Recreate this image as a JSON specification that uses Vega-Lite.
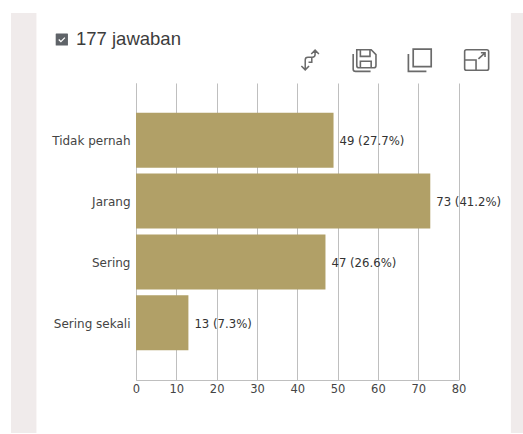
{
"$schema":"https://vega.github.io/schema/vega-lite/v6.json",
"width":322.5,"height":297,
"autosize":{"type":"none"},
"padding":{"left":136,"top":83,"right":64.5,"bottom":54},
"background":"#ffffff",
"config":{"view":{"stroke":null},"font":"DejaVu Sans"},
"title":{"text":"177 jawaban","anchor":"start","frame":"group","dx":-60,"offset":0,"dy":35,"fontSize":18.5,"fontWeight":"normal","font":"Liberation Sans","color":"#3c3c3c"},
"data":{"values":[
{"kategori":"Tidak pernah","jumlah":49,"label":"49 (27.7%)"},
{"kategori":"Jarang","jumlah":73,"label":"73 (41.2%)"},
{"kategori":"Sering","jumlah":47,"label":"47 (26.6%)"},
{"kategori":"Sering sekali","jumlah":13,"label":"13 (7.3%)"}
]},
"layer":[
{"mark":{"type":"bar","color":"#b1a067"},
"encoding":{
"x":{"field":"jumlah","type":"quantitative","scale":{"domain":[0,80],"nice":false},
"axis":{"title":null,"values":[0,10,20,30,40,50,60,70,80],"grid":true,"gridColor":"#bfbfbf","gridWidth":1,"domainColor":"#bfbfbf","ticks":false,"labelFlush":false,"labelPadding":3,"labelFontSize":11.5,"labelColor":"#444444","labelFont":"DejaVu Sans"}},
"y":{"field":"kategori","type":"nominal","sort":null,"scale":{"paddingInner":0.095,"paddingOuter":0.49},
"axis":{"title":null,"grid":false,"domainColor":"#bfbfbf","ticks":false,"labelPadding":6,"labelFontSize":12,"labelOffset":1,"labelColor":"#444444","labelFont":"DejaVu Sans"}}
}},
{"data":{"values":[{}]},"mark":{"type":"rect","color":"#f0ebeb"},"encoding":{"x":{"datum":-31,"type":"quantitative"},"x2":{"datum":-24.7},"y":{"value":-70},"y2":{"value":350}}},
{"data":{"values":[{}]},"mark":{"type":"rect","color":"#f0ebeb"},"encoding":{"x":{"datum":93,"type":"quantitative"},"x2":{"datum":96},"y":{"value":-70},"y2":{"value":350}}},
{"mark":{"type":"text","align":"left","baseline":"middle","dx":6,"dy":1,"fontSize":11.7,"font":"DejaVu Sans","color":"#333333"},
"encoding":{"x":{"field":"jumlah","type":"quantitative"},"y":{"field":"kategori","type":"nominal","sort":null},"text":{"field":"label"}}},
{"data":{"values":[{}]},"mark":{"type":"point","filled":true,"opacity":1,"color":"#5f6368"},"encoding":{"x":{"datum":-18.4,"type":"quantitative"},"y":{"value":-43.5},"shape":{"value":"M-0.9 -1 H0.9 Q1 -1 1 -0.9 V0.9 Q1 1 0.9 1 H-0.9 Q-1 1 -1 0.9 V-0.9 Q-1 -1 -0.9 -1 Z"},"size":{"value":150}}},
{"data":{"values":[{}]},"mark":{"type":"point","filled":false,"opacity":1,"color":"#ffffff","strokeWidth":1.3},"encoding":{"x":{"datum":-18.4,"type":"quantitative"},"y":{"value":-43.5},"shape":{"value":"M-0.5 0 L-0.15 0.35 L0.5 -0.3"},"size":{"value":150}}},
{"data":{"values":[{}]},"mark":{"type":"point","filled":false,"opacity":1,"color":"#6a6a6a","strokeWidth":1.5},"encoding":{"x":{"datum":43.2,"type":"quantitative"},"y":{"value":-23},"shape":{"value":"M-0.45 0.85 V0 Q-0.45 -0.25 -0.2 -0.25 H0.15 V0.2 H-0.15 M0.15 -0.25 H0.2 Q0.45 -0.25 0.45 -0.5 V-0.85 M-0.8 0.55 L-0.45 0.9 L-0.1 0.55 M0.1 -0.55 L0.45 -0.9 L0.8 -0.55"},"size":{"value":480}}},
{"data":{"values":[{}]},"mark":{"type":"point","filled":false,"opacity":1,"color":"#6a6a6a","strokeWidth":1.6},"encoding":{"x":{"datum":56.7,"type":"quantitative"},"y":{"value":-23},"shape":{"value":"M-0.65 -0.85 H0.55 L0.95 -0.45 V0.45 Q0.95 0.65 0.75 0.65 H-0.45 Q-0.65 0.65 -0.65 0.45 Z M-0.35 -0.85 V-0.3 H0.45 V-0.85 M-0.35 0.65 V0.1 H0.55 V0.65 M-0.95 -0.5 V0.75 Q-0.95 0.95 -0.75 0.95 H0.5"},"size":{"value":576}}},
{"data":{"values":[{}]},"mark":{"type":"point","filled":false,"opacity":1,"color":"#6a6a6a","strokeWidth":1.7},"encoding":{"x":{"datum":70.4,"type":"quantitative"},"y":{"value":-23},"shape":{"value":"M-0.55 -0.9 H0.95 V0.55 H-0.55 Z M-0.95 -0.5 V0.95 H0.55"},"size":{"value":576}}},
{"data":{"values":[{}]},"mark":{"type":"point","filled":false,"opacity":1,"color":"#6a6a6a","strokeWidth":1.6},"encoding":{"x":{"datum":84.5,"type":"quantitative"},"y":{"value":-23},"shape":{"value":"M-0.85 -0.85 H0.85 Q1 -0.85 1 -0.7 V0.7 Q1 0.85 0.85 0.85 H-0.85 Q-1 0.85 -1 0.7 V-0.7 Q-1 -0.85 -0.85 -0.85 Z M-1 0 H-0.05 V0.85 M0.15 -0.1 L0.7 -0.6 M0.35 -0.6 H0.7 V-0.25"},"size":{"value":576}}}
]
}
